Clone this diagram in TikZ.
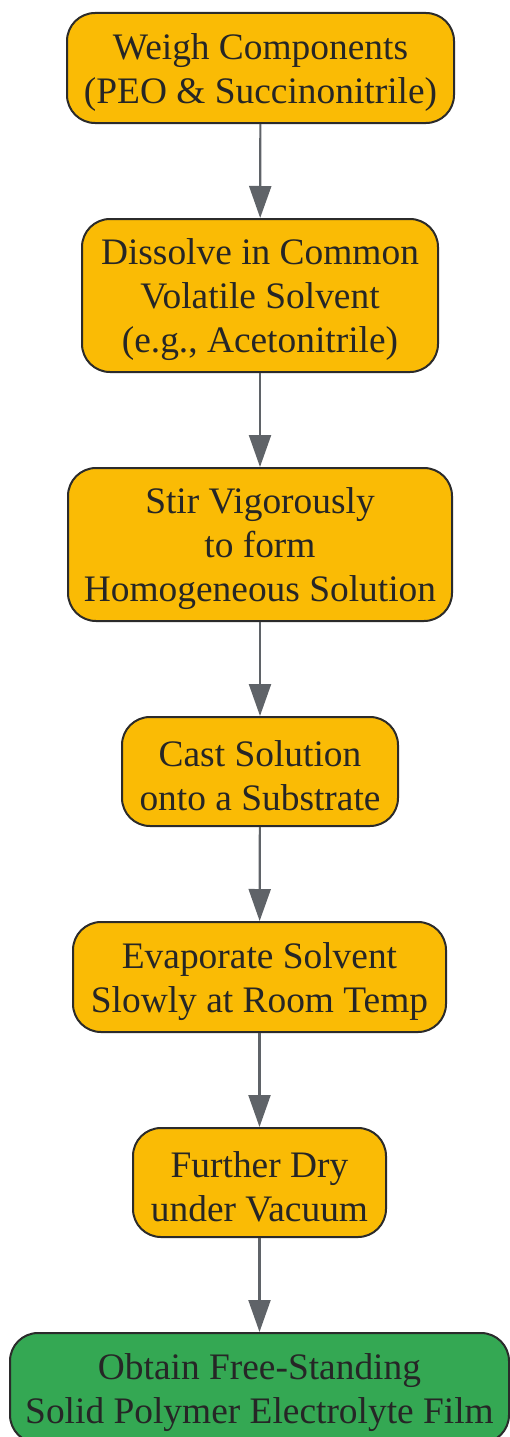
\documentclass[tikz,border=0pt]{standalone}
\usepackage{fontspec}
\setmainfont{Liberation Serif}
\usetikzlibrary{arrows.meta}
\definecolor{boxyellow}{HTML}{FABB05}
\definecolor{boxgreen}{HTML}{34A853}
\definecolor{boxline}{HTML}{2B2B2B}
\definecolor{arrowgray}{HTML}{5F6368}
\definecolor{txt}{HTML}{262626}
\tikzset{
  stepbox/.style={draw=boxline, line width=2pt, rounded corners=28pt, fill=boxyellow, inner sep=0pt},
  endbox/.style={stepbox, fill=boxgreen},
  steptext/.style={align=center, inner sep=0pt, text=txt,
    font=\fontsize{37.4}{44}\selectfont},
  flow/.style={draw=arrowgray, line width=2.2pt, -{Triangle[length=32pt,width=22pt]}}
}
\begin{document}
\begin{tikzpicture}[x=1pt,y=1pt]
\useasboundingbox (0,0) rectangle (509,-1437);
\node[stepbox, minimum width=387pt, minimum height=110pt] (n1) at (260.5,-68) {};
\node[stepbox, minimum width=356pt, minimum height=153pt] (n2) at (260,-295.5) {};
\node[stepbox, minimum width=384pt, minimum height=153pt] (n3) at (260,-544.5) {};
\node[stepbox, minimum width=276pt, minimum height=109pt] (n4) at (260,-771.5) {};
\node[stepbox, minimum width=373pt, minimum height=110pt] (n5) at (259.5,-977) {};
\node[stepbox, minimum width=253pt, minimum height=109pt] (n6) at (259.5,-1182.5) {};
\node[endbox, minimum width=499pt, minimum height=110pt] (n7) at (259.5,-1388) {};
\node[steptext] (t1) at ([yshift=-4.5pt]n1.center) {Weigh Components\\(PEO \& Succinonitrile)};
\node[steptext] (t2) at ([yshift=-4.5pt]n2.center) {Dissolve in Common\\Volatile Solvent\\(e.g., Acetonitrile)};
\node[steptext] (t3) at ([yshift=-4.5pt]n3.center) {Stir Vigorously\\to form\\Homogeneous Solution};
\node[steptext] (t4) at ([yshift=-4.5pt]n4.center) {Cast Solution\\onto a Substrate};
\node[steptext] (t5) at ([yshift=-4.5pt]n5.center) {Evaporate Solvent\\Slowly at Room Temp};
\node[steptext] (t6) at ([yshift=-4.5pt]n6.center) {Further Dry\\under Vacuum};
\node[steptext] (t7) at ([yshift=-4.5pt]n7.center) {Obtain Free-Standing\\Solid Polymer Electrolyte Film};
\draw[flow] (n1) -- (n2);
\draw[flow] (n2) -- (n3);
\draw[flow] (n3) -- (n4);
\draw[flow] (n4) -- (n5);
\draw[flow] (n5) -- (n6);
\draw[flow] (n6) -- (n7);
\end{tikzpicture}
\end{document}
